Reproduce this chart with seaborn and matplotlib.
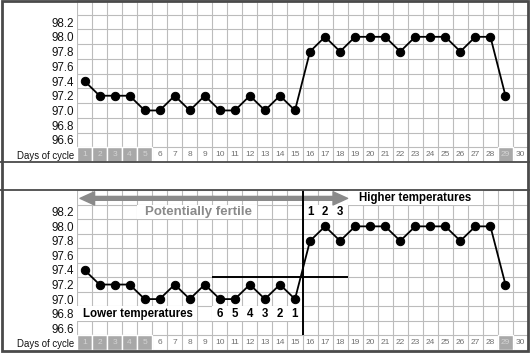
import numpy as np
import seaborn as sns
import matplotlib.pyplot as plt
from matplotlib.patches import Rectangle
from matplotlib.lines import Line2D

# chart data
days = list(range(1, 30))
temps = [97.4, 97.2, 97.2, 97.2, 97.0, 97.0, 97.2, 97.0, 97.2, 97.0,
         97.0, 97.2, 97.0, 97.2, 97.0, 97.8, 98.0, 97.8, 98.0, 98.0,
         98.0, 97.8, 98.0, 98.0, 98.0, 97.8, 98.0, 98.0, 97.2]
day_labels = [str(d) for d in range(1, 31)]
shaded_days = [1, 2, 3, 4, 5, 29]
temp_ticks = [98.2, 98.0, 97.8, 97.6, 97.4, 97.2, 97.0, 96.8, 96.6]
low_days = [10, 11, 12, 13, 14, 15]
low_count = ['6', '5', '4', '3', '2', '1']
high_days = [16, 17, 18]
high_count = ['1', '2', '3']
coverline = 97.3
shift_day = 15.5

sns.set_style('white')
plt.rcParams['font.family'] = ['Liberation Sans', 'DejaVu Sans']

W, H = 530, 353
fig = plt.figure(figsize=(W / 100, H / 100), dpi=100)

grid_c = '#bcbcbc'
ymin, ymax = 96.3, 98.5
day_row = 96.4


def panel(ax):
    ax.set_xlim(0.5, 30.5)
    ax.set_ylim(ymin, ymax)
    ax.set_axisbelow(True)
    ax.set_xticks(np.arange(0.5, 31, 1), minor=True)
    ax.set_yticks(np.round(np.arange(ymin, ymax + 0.05, 0.2), 1), minor=True)
    ax.set_xticks([])
    ax.set_yticks([day_row] + temp_ticks)
    ax.set_yticklabels(['Days of cycle'] + ['%.1f' % t for t in temp_ticks])
    for lab in ax.get_yticklabels():
        lab.set_fontsize(8.4 if lab.get_text() != 'Days of cycle' else 6.9)
        lab.set_color('#111111')
    ax.tick_params(which='both', length=0, pad=2)
    ax.grid(which='minor', color=grid_c, lw=0.8)
    ax.grid(which='major', visible=False)
    for s in ax.spines.values():
        s.set_visible(False)

    # days row
    ax.bar(shaded_days, 0.2, bottom=ymin, width=1, color='#a8a8a8', zorder=1)
    for lab in day_labels:
        d = int(lab)
        ax.text(d, day_row, lab, ha='center', va='center', fontsize=6,
                color='#d4d4d4' if d in shaded_days else '#707070', zorder=2)

    sns.lineplot(x=days, y=temps, ax=ax, color='black', marker='o',
                 markersize=6, markeredgecolor='black', linewidth=1.3,
                 zorder=5)
    ax.set_xlabel('')
    ax.set_ylabel('')


ax1 = fig.add_axes([77 / W, (H - 162) / H, 451 / W, 162 / H])
panel(ax1)

ax2 = fig.add_axes([77 / W, 3 / H, 451 / W, 160 / H])
panel(ax2)


def cover(ax, x0, x1, y):
    ax.add_patch(Rectangle((x0, y - 0.1), x1 - x0, 0.2, fc='white',
                           ec='none', zorder=2))


# annotations on the lower panel
cover(ax2, 0.5, 8.5, 96.8)
ax2.text(0.9, 96.8, 'Lower temperatures', ha='left', va='center',
         fontsize=8.3, fontweight='bold', color='black', zorder=3)

cover(ax2, low_days[0] - 0.5, low_days[-1] + 0.5, 96.8)
for d, lab in zip(low_days, low_count):
    ax2.text(d, 96.8, lab, ha='center', va='center', fontsize=8.3,
             fontweight='bold', color='black', zorder=3)

cover(ax2, high_days[0] - 0.5, high_days[-1] + 0.5, 98.2)
for d, lab in zip(high_days, high_count):
    ax2.text(d, 98.2, lab, ha='center', va='center', fontsize=8.3,
             fontweight='bold', color='black', zorder=3)

cover(ax2, 4.5, 12.5, 98.2)
ax2.text(8.57, 98.2, 'Potentially fertile', ha='center', va='center',
         fontsize=9.5, fontweight='bold', color='#8a8a8a', zorder=3)

cover(ax2, 18.5, 27.5, 98.4)
ax2.text(23.0, 98.39, 'Higher temperatures', ha='center', va='center',
         fontsize=8.3, fontweight='bold', color='black', zorder=3)

# double-headed arrow
arrow_y = 98.385
mid = 9.6
style = 'simple,head_length=1.05,head_width=0.95,tail_width=0.28'
for tip in (0.7, high_days[-1] + 0.5):
    ax2.annotate('', xy=(tip, arrow_y), xytext=(mid, arrow_y),
                 arrowprops=dict(arrowstyle=style, color='#8a8a8a',
                                 mutation_scale=10, shrinkA=0, shrinkB=0),
                 zorder=3)

# coverline and shift line
ax2.hlines(coverline, low_days[0] - 0.5, high_days[-1] + 0.5,
           color='black', lw=1.4, zorder=4)
ax2.vlines(shift_day, 96.5, ymax, color='black', lw=1.4, zorder=4)

# frame and separators
for yp in (162, 190):
    fig.add_artist(Line2D([0, 1], [(H - yp) / H] * 2, color='#4a4a4a',
                          lw=1.3, transform=fig.transFigure))
fig.add_artist(Rectangle((2 / W, 2.5 / H), 526 / W, 350 / H, fill=False,
                         ec='#4a4a4a', lw=2, transform=fig.transFigure))

fig.savefig('out.png', dpi=100)
